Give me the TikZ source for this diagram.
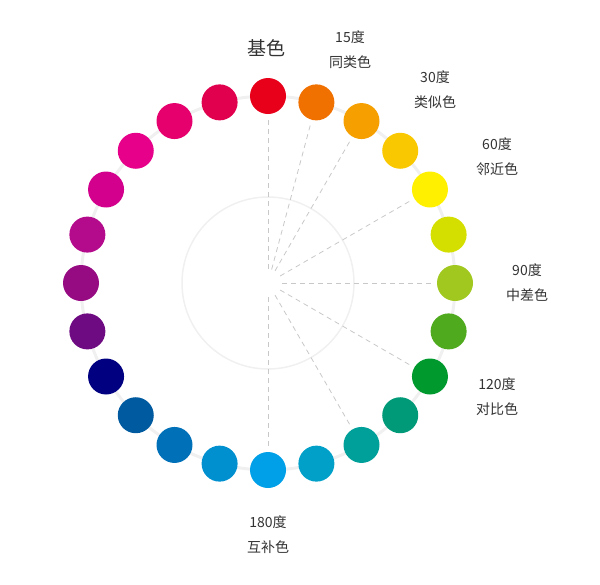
\documentclass[tikz,border=0pt]{standalone}
\usepackage{fontspec}
\newfontfamily\cjk{Noto Sans CJK SC}
\usetikzlibrary{positioning, calc}
\definecolor{ringgray}{HTML}{F0F0F0}
\definecolor{dashgray}{HTML}{C8C8C8}
\definecolor{labelgray}{HTML}{333333}
\tikzset{hue/.style={circle, minimum size=36pt, inner sep=0pt},
         guide/.style={dashgray, dashed, dash pattern=on 5pt off 4pt, line width=0.8pt},
         tag/.style={align=center, text=labelgray, font=\cjk\fontsize{14pt}{25pt}\selectfont}}
\begin{document}
\begin{tikzpicture}[x=1pt, y=-1pt]
    \useasboundingbox (0,0) rectangle (600,584);
    \coordinate (c) at (268,283);
    \draw[ringgray, line width=3pt] (c) circle (187pt);
    \draw[ringgray, line width=1.5pt] (c) circle (86pt);
    % colour wheel, clockwise from the top
    \foreach \col [count=\i from 0] in {E8001A,F07000,F5A000,FAC800,FFF000,D4DF00,A0C81E,50AA1E,00992E,009A78,00A09A,00A0C8,00A0E8,0090D0,0070B8,005AA0,000080,6E0A82,960A82,B40A8C,D2008C,E6008A,E6006E,E0004E}{
        \definecolor{huecol}{HTML}{\col}
        \node[hue, fill=huecol] (h\i) at ($(c)+({sin(15*\i)*187},{-cos(15*\i)*187})$) {};
    }
    % guide lines
    \foreach \i in {0,1,2,4,6,8,10,12}{
        \coordinate (s\i) at ($(c)+({sin(15*\i)*14},{-cos(15*\i)*14})$);
        \coordinate (e\i) at ($(c)+({sin(15*\i)*166},{-cos(15*\i)*166})$);
        \draw[guide] (s\i) -- (e\i);
    }
    \node[tag, font=\cjk\fontsize{19pt}{22pt}\selectfont, text=black!80] (base) at (266,48) {基色};
    \node[tag] (t15) at (350,50) {15度\\同类色};
    \node[tag] (t30) at (435,90) {30度\\类似色};
    \node[tag] (t60) at (497,157) {60度\\邻近色};
    \node[tag] (t90) at (527,283) {90度\\中差色};
    \node[tag] (t120) at (497,397) {120度\\对比色};
    \node[tag] (t180) at (268,535) {180度\\互补色};
\end{tikzpicture}
\end{document}
